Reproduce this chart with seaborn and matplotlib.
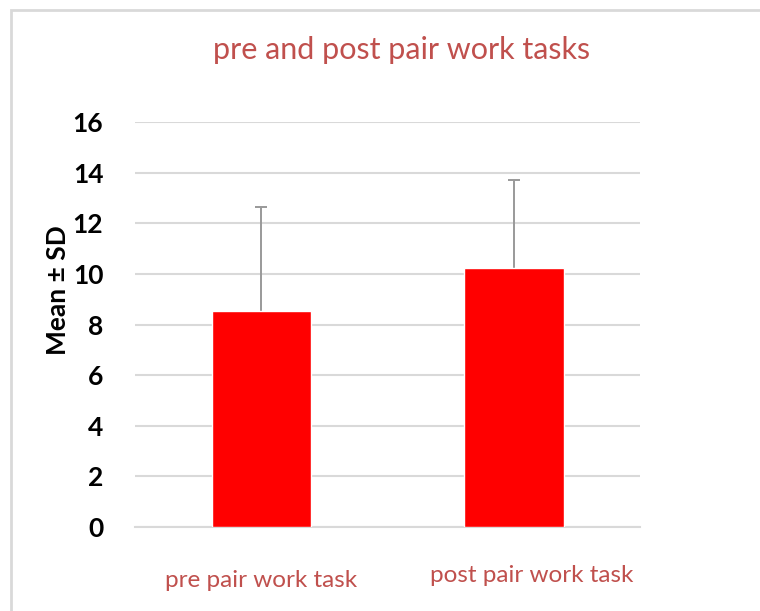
import matplotlib
matplotlib.use("Agg")
import matplotlib.pyplot as plt
import matplotlib.patches as mpatches
import matplotlib.transforms as mtransforms
import pandas as pd
import seaborn as sns

sns.set_style("white")
plt.rcParams['font.family'] = ['Lato', 'DejaVu Sans']

# data
tasks = ["pre pair work task", "post pair work task"]
means = [8.53, 10.23]
sds = [4.13, 3.46]
y_ticks = [0, 2, 4, 6, 8, 10, 12, 14, 16]

df = pd.DataFrame({"task": tasks, "mean": means})

fig = plt.figure(figsize=(7.6, 6.11), dpi=100)
ax = fig.add_axes([0.178, 0.1375, 0.664, 0.6628])

sns.barplot(data=df, x="task", y="mean", color="#ff0000", saturation=1,
            width=0.395, errorbar=None, ax=ax, zorder=3)

# upward-only SD bars
eb = ax.errorbar(range(len(tasks)), means, yerr=[[0] * len(sds), sds], fmt="none",
                 ecolor="#999999", elinewidth=1.4, capsize=4.3, capthick=1.4, zorder=2)
eb[1][0].set_visible(False)  # drop the lower cap

ax.set_xlim(-0.5, 1.5)
ax.set_ylim(0, 16)
ax.set_yticks(y_ticks)
ax.set_yticklabels([str(t) for t in y_ticks], fontsize=19, fontweight="bold", color="black")
ax.yaxis.grid(True, color="#d9d9d9", linewidth=1.5, zorder=0)
ax.set_axisbelow(True)
ax.tick_params(axis="both", length=0)
ax.tick_params(axis="y", pad=23)
ax.tick_params(axis="x", pad=31)

for s in ["top", "right", "left"]:
    ax.spines[s].set_visible(False)
ax.spines["bottom"].set_color("#d9d9d9")
ax.spines["bottom"].set_linewidth(1.5)

ax.set_xlabel("")
ax.set_xticks(range(len(tasks)))
ax.set_xticklabels(tasks, fontsize=17.5, color="#c0504d")
# second category label sits a bit right and higher in the original
lbl = ax.get_xticklabels()[1]
lbl.set_transform(lbl.get_transform() + mtransforms.ScaledTranslation(0.176, 0.05, fig.dpi_scale_trans))

ax.set_ylabel("Mean \u00b1 SD", fontsize=19, fontweight="bold", color="black")
ax.yaxis.set_label_coords(-0.129, 0.585)

fig.text(0.529, 0.918, "pre and post pair work tasks", ha="center", va="center",
         fontsize=22, color="#c0504d")

# chart frame
fig.add_artist(mpatches.Rectangle((11 / 760, -0.05), 1.2, 1 - 10 / 611 + 0.05,
                                  transform=fig.transFigure, fill=False,
                                  edgecolor="#d9d9d9", linewidth=2))

fig.savefig("out.png", dpi=100)
